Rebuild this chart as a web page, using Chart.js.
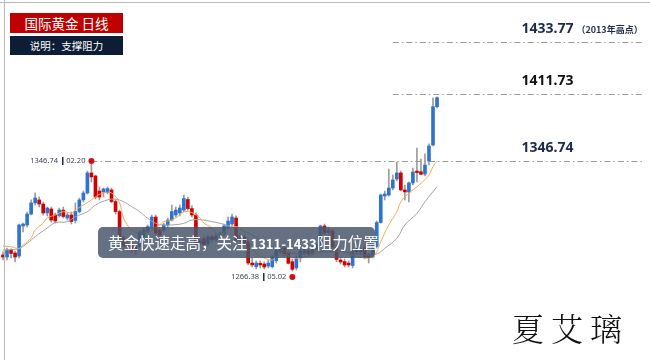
<!DOCTYPE html>
<html lang="zh">
<head>
<meta charset="utf-8">
<title>国际黄金 日线</title>
<script src="https://cdn.jsdelivr.net/npm/chart.js@4.4.1/dist/chart.umd.min.js"></script>
<style>
  body { margin: 0; background: #fff; }
  #frame { position: relative; width: 650px; height: 360px; overflow: hidden; font-family: "Noto Sans CJK SC", "Noto Sans", sans-serif; }
  #goldChart { position: absolute; left: 0; top: 0; }
  .tag { position: absolute; left: 10px; width: 113px; color: #fff; text-align: center; white-space: nowrap; }
  .tag.title { top: 13px; height: 20px; line-height: 20px; background: #c00000; font-size: 13.5px; }
  .tag.note { top: 36px; height: 19px; line-height: 19px; background: #0c1d35; font-size: 10.5px; }
  #banner { position: absolute; left: 98px; top: 227px; width: 277px; height: 31px; line-height: 31px; border-radius: 5px; background: rgba(72, 86, 106, 0.84); color: #fff; font-size: 15.5px; padding-left: 10px; box-sizing: border-box; white-space: nowrap; }
  #banner b { font-size: 13px; }
  #sign { position: absolute; left: 512px; top: 311px; line-height: 32px; font-size: 32px; font-weight: 300; letter-spacing: 7px; color: #111; font-family: "Noto Serif CJK SC", "Noto Sans CJK SC", sans-serif; }
</style>
</head>
<body>
<div id="frame">
  <canvas id="goldChart" width="650" height="360"></canvas>
  <div class="tag title">国际黄金 日线</div>
  <div class="tag note">说明：支撑阻力</div>
  <div id="banner">黄金快速走高，关注<b> 1311-1433</b>阻力位置</div>
  <div id="sign">夏艾璃</div>
</div>
<script>
"use strict";

// daily candles (index 0 = first visible day)
const opens = [
  1278.1, 1276.6, 1281.7, 1279.5, 1277.3, 1299.3, 1300.0, 1308.0, 1316.1, 1318.3,
  1315.3, 1308.8, 1311.7, 1307.3, 1306.9, 1310.9, 1305.1, 1307.3, 1303.3, 1309.8,
  1318.3, 1323.4, 1338.0, 1335.8, 1324.8, 1324.1, 1323.7, 1325.6, 1317.1, 1309.8,
  1290.5, 1284.3, 1285.4, 1283.9, 1284.3, 1291.2, 1295.1, 1298.5, 1305.8, 1296.3,
  1296.3, 1300.0, 1303.6, 1307.3, 1308.8, 1310.9, 1318.6, 1312.0, 1307.3, 1286.1,
  1289.8, 1286.1, 1291.2, 1289.4, 1292.3, 1293.4, 1297.8, 1300.7, 1305.1, 1289.0,
  1291.2, 1287.6, 1272.2, 1269.5, 1272.0, 1271.5, 1270.0, 1269.5, 1273.9, 1280.3,
  1283.2, 1279.3, 1273.2, 1268.6, 1275.9, 1279.5, 1281.0, 1278.8, 1282.5, 1284.6,
  1299.3, 1294.5, 1295.6, 1283.9, 1274.4, 1273.3, 1272.2, 1270.4, 1280.3, 1280.3,
  1283.2, 1278.1, 1276.6, 1284.3, 1301.8, 1321.2, 1321.9, 1327.0, 1333.6, 1338.0,
  1325.6, 1324.1, 1330.7, 1339.4, 1338.9, 1337.2, 1346.7, 1358.4, 1386.4
];
const highs = [
  1280.3, 1283.2, 1282.5, 1281.0, 1300.7, 1301.4, 1309.5, 1318.3, 1323.4, 1320.4,
  1316.8, 1313.1, 1313.1, 1308.8, 1312.4, 1313.1, 1308.8, 1309.5, 1316.1, 1319.7,
  1324.8, 1339.4, 1346.74, 1336.5, 1327.7, 1327.0, 1327.7, 1327.0, 1318.3, 1310.9,
  1292.0, 1288.3, 1286.8, 1286.1, 1296.3, 1297.8, 1300.0, 1307.3, 1307.3, 1297.8,
  1301.4, 1305.1, 1314.6, 1313.1, 1314.6, 1321.9, 1320.4, 1313.9, 1308.8, 1290.5,
  1291.2, 1292.7, 1292.7, 1294.1, 1294.9, 1300.7, 1305.8, 1308.0, 1306.6, 1294.1,
  1292.7, 1289.0, 1275.9, 1273.7, 1273.7, 1273.0, 1274.4, 1278.1, 1282.5, 1284.6,
  1284.6, 1281.0, 1275.2, 1277.3, 1282.5, 1283.9, 1282.5, 1284.6, 1286.8, 1300.0,
  1300.7, 1298.5, 1297.1, 1285.4, 1276.6, 1275.2, 1273.7, 1281.7, 1283.9, 1283.2,
  1284.6, 1279.5, 1286.1, 1302.9, 1322.6, 1324.8, 1340.9, 1336.5, 1346.0, 1339.4,
  1329.2, 1331.4, 1341.6, 1356.2, 1348.2, 1351.9, 1359.2, 1392.8, 1393.7
];
const lows = [
  1274.4, 1274.4, 1275.9, 1273.0, 1275.9, 1294.9, 1298.5, 1307.3, 1314.6, 1313.1,
  1307.3, 1306.6, 1302.2, 1301.4, 1305.8, 1305.1, 1303.6, 1300.7, 1301.4, 1308.8,
  1316.8, 1322.6, 1331.4, 1319.0, 1318.3, 1320.4, 1322.6, 1316.1, 1308.0, 1289.0,
  1282.5, 1281.0, 1279.5, 1278.1, 1283.2, 1289.8, 1294.1, 1297.8, 1292.7, 1291.2,
  1294.9, 1298.5, 1302.9, 1305.8, 1306.6, 1309.5, 1310.9, 1305.8, 1285.4, 1283.9,
  1283.2, 1284.6, 1287.6, 1288.3, 1289.8, 1292.0, 1297.1, 1299.3, 1287.6, 1287.6,
  1285.4, 1270.8, 1269.3, 1267.9, 1268.6, 1267.9, 1268.6, 1268.6, 1272.2, 1278.8,
  1277.3, 1271.5, 1266.38, 1267.1, 1273.0, 1278.1, 1277.3, 1278.1, 1281.0, 1283.9,
  1292.7, 1292.0, 1282.5, 1273.0, 1271.5, 1269.3, 1269.3, 1268.6, 1278.8, 1278.8,
  1275.2, 1272.2, 1275.9, 1283.2, 1301.4, 1318.3, 1321.2, 1325.6, 1332.1, 1324.8,
  1318.3, 1316.8, 1329.2, 1331.4, 1336.5, 1335.8, 1343.8, 1357.7, 1385.5
];
const closes = [
  1276.6, 1281.7, 1279.2, 1276.6, 1300.0, 1300.7, 1308.0, 1316.1, 1319.7, 1315.3,
  1308.8, 1312.4, 1303.6, 1302.9, 1310.9, 1306.2, 1307.3, 1302.5, 1309.8, 1318.3,
  1323.4, 1338.0, 1335.1, 1320.4, 1320.4, 1326.3, 1326.6, 1317.1, 1309.8, 1290.5,
  1284.6, 1286.1, 1281.7, 1281.4, 1294.9, 1296.3, 1298.8, 1305.8, 1294.1, 1292.7,
  1300.0, 1303.6, 1309.8, 1310.9, 1312.4, 1319.3, 1312.0, 1307.3, 1286.8, 1288.3,
  1285.4, 1291.2, 1289.4, 1292.0, 1293.4, 1299.3, 1302.9, 1305.8, 1289.0, 1292.0,
  1286.8, 1272.2, 1270.8, 1272.2, 1270.8, 1269.3, 1272.2, 1276.8, 1281.2, 1283.2,
  1278.8, 1272.0, 1267.6, 1275.9, 1281.0, 1282.5, 1278.8, 1283.2, 1285.4, 1299.3,
  1294.1, 1296.3, 1283.9, 1274.8, 1273.0, 1270.8, 1270.8, 1280.6, 1281.7, 1282.1,
  1276.6, 1276.2, 1284.6, 1301.8, 1321.9, 1322.6, 1327.0, 1332.9, 1338.0, 1325.6,
  1324.1, 1330.7, 1338.7, 1338.3, 1337.0, 1343.8, 1357.7, 1386.4, 1393.0
];

// moving averages, read at the days where they could be seen
const maFastDay = [0, 2, 4, 5, 7, 8, 10, 11, 13, 15, 17, 18, 20, 22, 23, 25, 27, 29, 30, 32,
  34, 35, 37, 39, 40, 42, 44, 45, 47, 49, 50, 52, 54, 56, 57, 59, 61, 63, 65, 67,
  68, 70, 73, 75, 79, 82, 86, 90, 92, 93, 94, 96, 98, 99, 101, 103, 104, 106, 107, 108];
const maFast = [1284.6, 1284.1, 1282.9, 1285.4, 1290.5, 1296.3, 1301.4, 1305.1, 1307.3, 1309.7,
  1308.8, 1310.9, 1314.6, 1318.3, 1320.6, 1323.4, 1323.4, 1316.1, 1305.1, 1296.3,
  1294.1, 1294.1, 1296.3, 1300.0, 1302.4, 1303.6, 1307.3, 1309.7, 1309.0, 1305.1,
  1301.4, 1297.8, 1292.0, 1297.8, 1298.7, 1297.8, 1289.0, 1279.5, 1275.9, 1274.4,
  1276.8, 1278.1, 1275.7, 1276.6, 1280.5, 1283.2, 1278.8, 1275.9, 1276.8, 1280.5,
  1287.8, 1300.0, 1309.7, 1317.0, 1323.1, 1327.9, 1330.4, 1336.5, 1342.6, 1346.7];
const maSlowDay = [0, 4, 6, 8, 11, 13, 16, 18, 21, 23, 26, 28, 30, 32, 34, 36, 38, 40, 42, 45,
  47, 50, 52, 54, 58, 62, 65, 68, 72, 76, 80, 85, 90, 93, 95, 98, 100, 103, 105, 108];
const maSlow = [1281.7, 1282.8, 1286.6, 1291.4, 1297.8, 1301.7, 1302.4, 1306.0, 1309.7, 1314.6,
  1318.3, 1318.8, 1317.0, 1313.4, 1309.7, 1304.9, 1301.2, 1300.0, 1300.0, 1301.2,
  1303.6, 1303.6, 1302.4, 1301.2, 1297.6, 1292.7, 1287.6, 1283.2, 1279.5, 1278.8,
  1280.3, 1280.3, 1278.1, 1278.8, 1283.0, 1290.3, 1300.0, 1308.5, 1317.0, 1328.0];

// support / resistance levels
const levelPrices = [1433.77, 1395.4, 1346.74];
const levelTexts = ["1433.77", "1411.73", "1346.74"];
const levelNotes = ["（2013年高点）", "", ""];
const levelFrom = [97, 97, 22];
const levelTo = 159;
const levelTextAt = 129;

// marked high / low
const markDay = [22, 72];
const markSide = ["high", "low"];
const markPrice = ["1346.74", "1266.38"];
const markDate = ["02.20", "05.02"];

const daySlots = 161; // visible days plus empty room on the right
const slotLabels = Array.from({ length: daySlots }, (_, i) => i);

const upColor = "#2f73d2";
const downColor = "#d20000";

const levelLines = {
  id: "levelLines",
  beforeDatasetsDraw(chart) {
    const { ctx, scales: { x, y } } = chart;
    ctx.save();
    ctx.strokeStyle = "#9a9a9a";
    ctx.lineWidth = 1;
    ctx.setLineDash([6, 3, 1.5, 3]);
    levelPrices.forEach(function (price, k) {
      const py = Math.round(y.getPixelForValue(price)) + 0.5;
      ctx.beginPath();
      ctx.moveTo(x.getPixelForValue(levelFrom[k]), py);
      ctx.lineTo(x.getPixelForValue(levelTo), py);
      ctx.stroke();
    });
    ctx.restore();
  },
  afterDatasetsDraw(chart) {
    const { ctx, scales: { x, y } } = chart;
    ctx.save();
    ctx.textBaseline = "middle";

    levelPrices.forEach(function (price, k) {
      const py = y.getPixelForValue(price) - 13;
      const px = x.getPixelForValue(levelTextAt);
      ctx.font = "bold 14px 'Noto Sans'";
      ctx.fillStyle = k === 1 ? "#111111" : "#1d2b48";
      ctx.fillText(levelTexts[k], px, py);
      if (levelNotes[k]) {
        const w = ctx.measureText(levelTexts[k]).width;
        ctx.font = "bold 9px 'Noto Sans CJK SC'";
        ctx.fillText(levelNotes[k], px + w + 3, py + 1);
      }
    });

    markDay.forEach(function (day, k) {
      const px = x.getPixelForValue(day);
      const py = markSide[k] === "high"
        ? y.getPixelForValue(highs[day])
        : y.getPixelForValue(lows[day]) + 6;
      ctx.fillStyle = "#d01010";
      ctx.beginPath();
      ctx.arc(px, py, 3, 0, Math.PI * 2);
      ctx.fill();

      ctx.font = "7.5px 'Noto Sans'";
      ctx.fillStyle = "#3a4556";
      ctx.textAlign = "right";
      const dateEnd = px - 6;
      ctx.fillText(markDate[k], dateEnd, py);
      const barX = Math.round(dateEnd - ctx.measureText(markDate[k]).width - 4);
      ctx.fillStyle = "#1d2b48";
      ctx.fillRect(barX, py - 4, 1.5, 8);
      ctx.fillStyle = "#3a4556";
      ctx.fillText(markPrice[k], barX - 4, py);
      ctx.textAlign = "left";
    });

    // frame
    ctx.strokeStyle = "#b8b8b8";
    ctx.lineWidth = 1;
    ctx.beginPath();
    ctx.moveTo(4.5, 0);
    ctx.lineTo(4.5, 360);
    ctx.moveTo(0, 2.5);
    ctx.lineTo(650, 2.5);
    ctx.stroke();
    ctx.restore();
  }
};

var goldChart = new Chart(document.getElementById("goldChart").getContext("2d"), {
  type: "bar",
  data: {
    labels: slotLabels,
    datasets: [
      {
        type: "line",
        label: "MA fast",
        data: maFastDay.map((d, k) => ({ x: d, y: maFast[k] })),
        borderColor: "#f6aa55",
        borderWidth: 1,
        pointRadius: 0,
        tension: 0.4,
        order: 0,
      },
      {
        type: "line",
        label: "MA slow",
        data: maSlowDay.map((d, k) => ({ x: d, y: maSlow[k] })),
        borderColor: "#a2a2a2",
        borderWidth: 1,
        pointRadius: 0,
        tension: 0.4,
        order: 0,
      },
      {
        label: "body",
        data: opens.map((o, i) => [o, closes[i]]),
        backgroundColor: opens.map((o, i) => (closes[i] >= o ? upColor : downColor)),
        barThickness: 3,
        minBarLength: 1,
        grouped: false,
        order: 1,
      },
      {
        label: "wick",
        data: lows.map((l, i) => [l, highs[i]]),
        backgroundColor: "#9c9c9c",
        barThickness: 1,
        grouped: false,
        order: 2,
      },
    ],
  },
  options: {
    responsive: false,
    animation: false,
    layout: { padding: { left: 1, right: 2, top: 0, bottom: 0 } },
    plugins: {
      legend: { display: false },
      tooltip: { enabled: false },
    },
    scales: {
      x: { display: false, offset: true },
      y: { display: false, beginAtZero: false, min: 1201.37, max: 1464.35 },
    },
  },
  plugins: [levelLines],
});
</script>
</body>
</html>
